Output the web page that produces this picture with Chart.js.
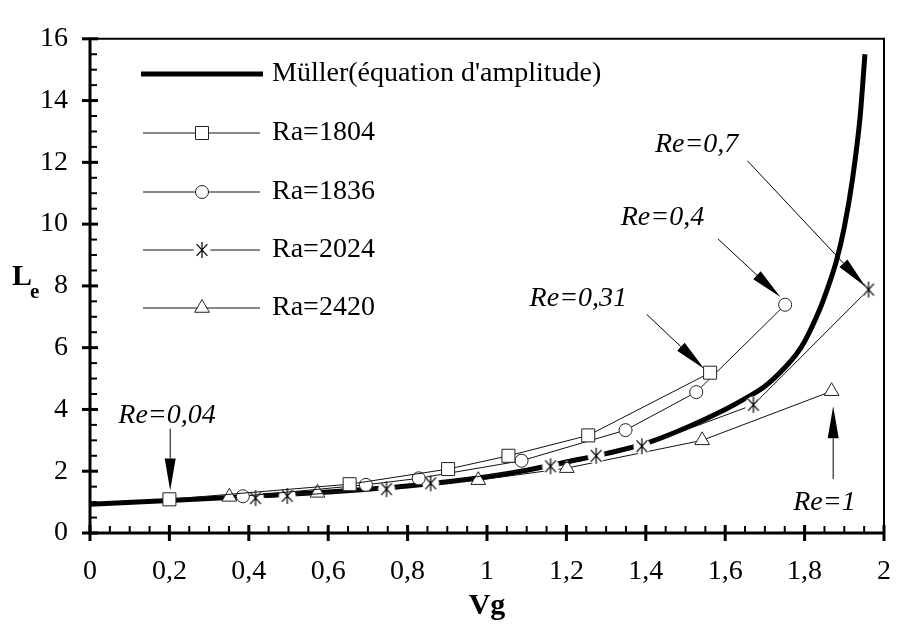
<!DOCTYPE html>
<html>
<head>
<meta charset="utf-8">
<script src="https://cdn.jsdelivr.net/npm/chart.js@4.4.0/dist/chart.umd.min.js"></script>
<style>
  html, body { margin: 0; padding: 0; background: #fff; }
  #wrap { width: 913px; height: 637px; }
</style>
</head>
<body>
<div id="wrap"><canvas id="chart" width="913" height="637"></canvas></div>
<script>
// Müller (équation d'amplitude)
const mullerVg = [0, 0.2, 0.4, 0.6, 0.8, 1.0, 1.1, 1.2, 1.3, 1.4, 1.5, 1.6, 1.65, 1.7, 1.75, 1.78, 1.8, 1.84, 1.86, 1.88, 1.9, 1.92, 1.94, 1.952];
const mullerLe = [0.93, 1.05, 1.18, 1.33, 1.52, 1.82, 2.03, 2.3, 2.57, 2.9, 3.4, 4.0, 4.35, 4.75, 5.35, 5.8, 6.2, 7.3, 8.0, 8.8, 9.9, 11.4, 13.5, 15.5];

// Ra=1804
const ra1804Vg = [0.2, 0.654, 0.902, 1.054, 1.255, 1.562];
const ra1804Le = [1.09, 1.58, 2.07, 2.5, 3.16, 5.19];

// Ra=1836
const ra1836Vg = [0.385, 0.695, 0.828, 1.087, 1.349, 1.527, 1.751];
const ra1836Le = [1.19, 1.56, 1.77, 2.34, 3.33, 4.56, 7.39];

// Ra=2024
const ra2024Vg = [0.417, 0.497, 0.747, 0.858, 1.16, 1.275, 1.39, 1.671, 1.961];
const ra2024Le = [1.13, 1.2, 1.42, 1.61, 2.16, 2.5, 2.81, 4.15, 7.88];

// Ra=2420
const ra2420Vg = [0.351, 0.573, 0.978, 1.201, 1.542, 1.868];
const ra2420Le = [1.17, 1.3, 1.71, 2.1, 3.0, 4.59];

// Flèches "Re=..." : position du texte, départ et pointe (unités des axes)
const notes = [
  { text: 'Re=0,04', at: [0.194, 3.79], from: [0.202, 3.38], to: [0.202, 1.38] },
  { text: 'Re=0,31', at: [1.23, 7.58], from: [1.402, 7.08], to: [1.547, 5.32] },
  { text: 'Re=0,4', at: [1.442, 10.21], from: [1.582, 9.52], to: [1.739, 7.64] },
  { text: 'Re=0,7', at: [1.528, 12.56], from: [1.656, 12.05], to: [1.953, 7.98] },
  { text: 'Re=1', at: [1.85, 0.97], from: [1.872, 1.75], to: [1.872, 4.1] }
];

const serif = '"Liberation Serif", "Times New Roman", serif';

const pts = (xs, ys) => xs.map((x, i) => ({ x, y: ys[i] }));
const fmt = v => String(Math.round(v * 10) / 10).replace('.', ',');

// astérisque avec un fond blanc, comme sur la figure
function makeAsterisk() {
  const c = document.createElement('canvas');
  c.width = 22; c.height = 22;
  const g = c.getContext('2d');
  g.fillStyle = '#fff';
  g.beginPath(); g.arc(11, 11, 8.5, 0, Math.PI * 2); g.fill();
  g.strokeStyle = '#000';
  g.lineWidth = 1.2;
  g.beginPath();
  [90, 48, 132].forEach(deg => {
    const r = deg * Math.PI / 180;
    g.moveTo(11 - 8 * Math.cos(r), 11 - 8 * Math.sin(r));
    g.lineTo(11 + 8 * Math.cos(r), 11 + 8 * Math.sin(r));
  });
  g.stroke();
  return c;
}
const asterisk = makeAsterisk();

function series(label, data, style, radius) {
  return {
    label, data, showLine: true,
    borderColor: '#111', borderWidth: 1,
    pointStyle: style, pointRadius: radius,
    pointBackgroundColor: '#fff', pointBorderColor: '#222', pointBorderWidth: 1,
    order: 1
  };
}

/**
 * cadre + graduations
 */
const framePlugin = {
  id: 'frame',
  afterDatasetsDraw(c) {
    const { ctx, chartArea: a, scales: { x, y } } = c;
    ctx.save();
    ctx.strokeStyle = '#000';
    ctx.lineCap = 'butt';
    ctx.lineWidth = 2;
    ctx.beginPath();
    ctx.moveTo(a.left, a.top); ctx.lineTo(a.right, a.top); ctx.lineTo(a.right, a.bottom);
    ctx.stroke();
    ctx.lineWidth = 3;
    ctx.beginPath();
    ctx.moveTo(a.left, a.top - 1); ctx.lineTo(a.left, a.bottom); ctx.lineTo(a.right + 1, a.bottom);
    ctx.stroke();

    for (let i = 0; i <= 40; i++) {
      const px = x.getPixelForValue(i * 0.05);
      const major = i % 4 === 0;
      ctx.lineWidth = major ? 3 : 2;
      ctx.beginPath();
      ctx.moveTo(px, major ? a.bottom + 8 : a.bottom);
      ctx.lineTo(px, major ? a.bottom - 8 : a.bottom - 7);
      ctx.stroke();
    }
    for (let i = 0; i <= 32; i++) {
      const py = y.getPixelForValue(i * 0.5);
      const major = i % 4 === 0;
      ctx.lineWidth = major ? 3 : 2;
      ctx.beginPath();
      ctx.moveTo(major ? a.left - 8 : a.left, py);
      ctx.lineTo(major ? a.left + 8 : a.left + 7, py);
      ctx.stroke();
    }
    ctx.restore();
  }
};

/**
 * titres des axes (Vg, L indice e)
 */
const titlesPlugin = {
  id: 'titles',
  afterDraw(c) {
    const { ctx, chartArea: a } = c;
    ctx.save();
    ctx.fillStyle = '#000';
    ctx.textBaseline = 'alphabetic';
    ctx.font = 'bold 30px ' + serif;
    ctx.textAlign = 'center';
    ctx.fillText('Vg', (a.left + a.right) / 2, 614);
    ctx.textAlign = 'left';
    ctx.fillText('L', 12, 285);
    ctx.font = 'bold 21px ' + serif;
    ctx.fillText('e', 30, 298);
    ctx.restore();
  }
};

/**
 * légende dans le cadre
 */
const legendPlugin = {
  id: 'innerLegend',
  afterDraw(c) {
    const { ctx } = c;
    const ds = c.data.datasets;
    const rows = [4, 0, 1, 2, 3];
    const rowY = [74, 133, 192, 250, 308];
    ctx.save();
    rows.forEach((idx, r) => {
      const d = ds[idx];
      const yy = rowY[r];
      ctx.strokeStyle = d.borderColor;
      ctx.lineWidth = d.borderWidth;
      ctx.beginPath();
      ctx.moveTo(idx === 4 ? 141 : 143, yy);
      ctx.lineTo(idx === 4 ? 263 : 260, yy);
      ctx.stroke();
      if (d.pointRadius > 0) {
        ctx.fillStyle = d.pointBackgroundColor;
        ctx.strokeStyle = d.pointBorderColor;
        ctx.lineWidth = d.pointBorderWidth;
        Chart.helpers.drawPoint(ctx, {
          pointStyle: d.pointStyle, radius: d.pointRadius, rotation: 0, borderWidth: d.pointBorderWidth
        }, 202, yy);
      }
      ctx.fillStyle = '#000';
      ctx.font = '28px ' + serif;
      ctx.textAlign = 'left';
      ctx.textBaseline = 'middle';
      ctx.fillText(d.label, 272, yy);
    });
    ctx.restore();
  }
};

/**
 * flèches annotées
 */
const notesPlugin = {
  id: 'notes',
  afterDraw(c) {
    const { ctx, scales: { x, y } } = c;
    const px = p => [x.getPixelForValue(p[0]), y.getPixelForValue(p[1])];
    ctx.save();
    ctx.fillStyle = '#000';
    ctx.strokeStyle = '#000';
    ctx.lineWidth = 1;
    notes.forEach(n => {
      const [tx, ty] = px(n.at);
      const [x0, y0] = px(n.from);
      const [x1, y1] = px(n.to);
      ctx.font = 'italic 28px ' + serif;
      ctx.textAlign = 'center';
      ctx.textBaseline = 'middle';
      ctx.fillText(n.text, tx, ty);

      const ang = Math.atan2(y1 - y0, x1 - x0);
      const len = 32, hw = 5.5;
      const bx = x1 - len * Math.cos(ang), by = y1 - len * Math.sin(ang);
      ctx.beginPath();
      ctx.moveTo(x0, y0); ctx.lineTo(bx, by);
      ctx.stroke();
      ctx.beginPath();
      ctx.moveTo(x1, y1);
      ctx.lineTo(bx + hw * Math.sin(ang), by - hw * Math.cos(ang));
      ctx.lineTo(bx - hw * Math.sin(ang), by + hw * Math.cos(ang));
      ctx.closePath();
      ctx.fill();
    });
    ctx.restore();
  }
};

const tickFont = { family: serif, size: 28 };

new Chart(document.getElementById('chart'), {
  type: 'scatter',
  data: {
    datasets: [
      series('Ra=1804', pts(ra1804Vg, ra1804Le), 'rect', 9.2),
      series('Ra=1836', pts(ra1836Vg, ra1836Le), 'circle', 6.5),
      series('Ra=2024', pts(ra2024Vg, ra2024Le), asterisk, 11),
      series('Ra=2420', pts(ra2420Vg, ra2420Le), 'triangle', 8.5),
      {
        label: "Müller(équation d'amplitude)",
        data: pts(mullerVg, mullerLe),
        showLine: true,
        borderColor: '#000',
        borderWidth: 5,
        pointRadius: 0,
        cubicInterpolationMode: 'monotone',
        order: 9
      }
    ]
  },
  options: {
    responsive: false,
    animation: false,
    events: [],
    layout: { padding: { top: 22, right: 10, left: 0, bottom: 0 } },
    plugins: { legend: { display: false }, tooltip: { enabled: false } },
    scales: {
      x: {
        type: 'linear', min: 0, max: 2,
        afterFit: s => { s.height = 104; },
        grid: { display: false, drawTicks: false },
        border: { display: false },
        ticks: { stepSize: 0.2, padding: 22, font: tickFont, color: '#000', maxRotation: 0, autoSkip: false, callback: fmt }
      },
      y: {
        type: 'linear', min: 0, max: 16,
        afterFit: s => { s.width = 90; },
        grid: { display: false, drawTicks: false },
        border: { display: false },
        ticks: { stepSize: 2, padding: 22, font: tickFont, color: '#000', autoSkip: false, callback: fmt }
      }
    }
  },
  plugins: [framePlugin, titlesPlugin, legendPlugin, notesPlugin]
});
</script>
</body>
</html>
